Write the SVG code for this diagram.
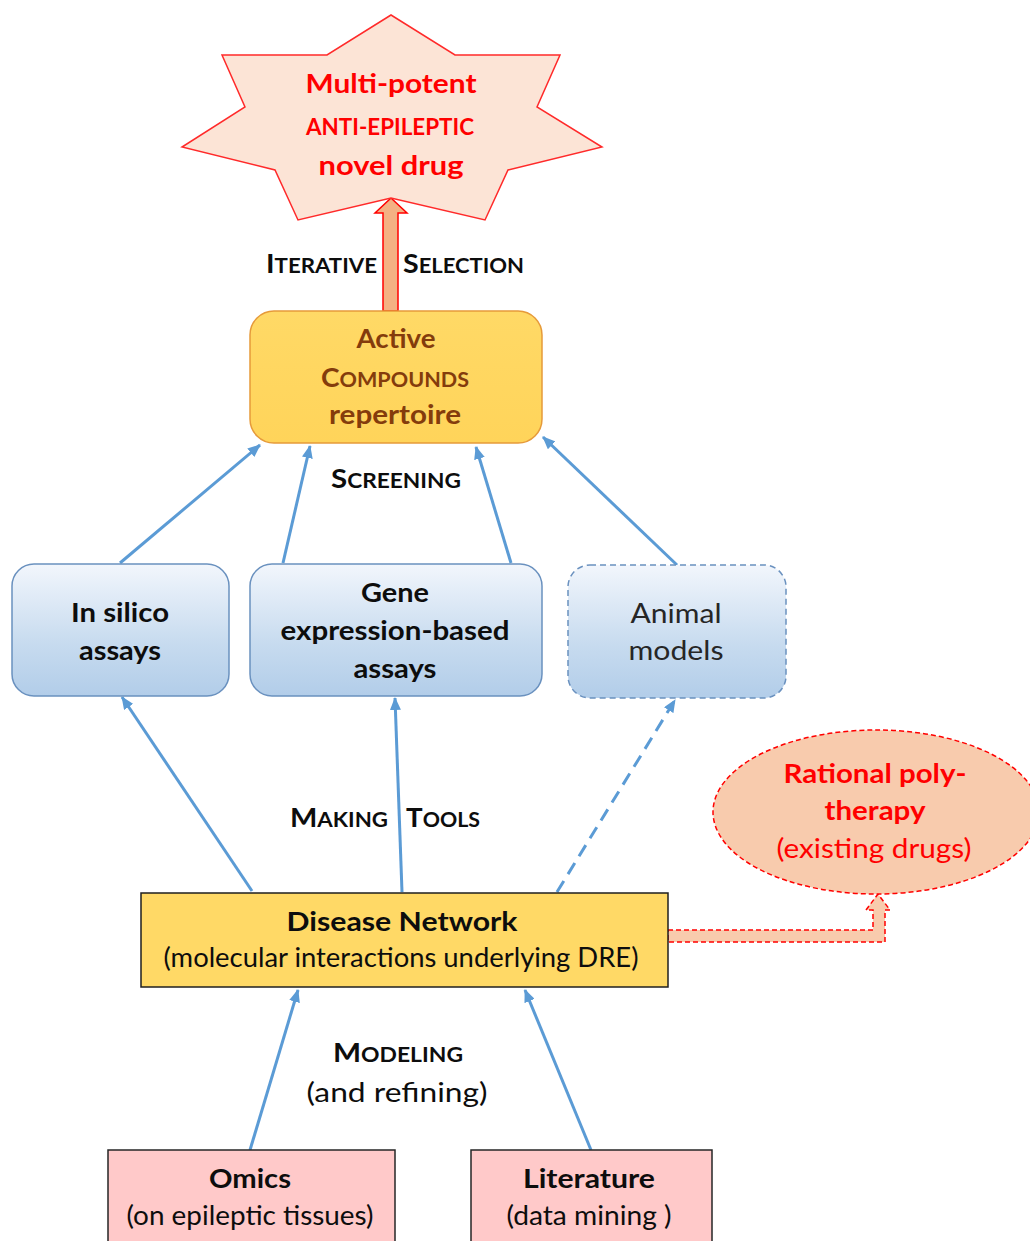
<svg xmlns="http://www.w3.org/2000/svg" width="1030" height="1241" viewBox="0 0 1030 1241">
<defs>
<linearGradient id="blueGrad" x1="0" y1="0" x2="0" y2="1">
<stop offset="0" stop-color="#F2F6FC"/>
<stop offset="0.6" stop-color="#C7DBEF"/>
<stop offset="1" stop-color="#B2CDE9"/>
</linearGradient>
<linearGradient id="goldGrad" x1="0" y1="0" x2="0" y2="1">
<stop offset="0" stop-color="#FFD966"/>
<stop offset="1" stop-color="#FFD45A"/>
</linearGradient>
<marker id="arr" markerWidth="13" markerHeight="11" refX="12" refY="5.5" orient="auto" markerUnits="userSpaceOnUse">
<path d="M0,0 L13,5.5 L0,11 Z" fill="#5B9BD5"/>
</marker>
<style>
text{font-family:Lato,Carlito,"Liberation Sans",sans-serif;text-anchor:middle;font-size:26px}
.b{font-weight:bold}
.dk{fill:#0D0D0D}
.red{fill:#FF0000}
.brn{fill:#843C0C}
.sc{font-size:20px}
.conn{stroke:#5B9BD5;stroke-width:3;fill:none;marker-end:url(#arr)}
.dash{stroke-dasharray:13 8}
.blue{fill:url(#blueGrad);stroke:#6A91BF;stroke-width:1.5}
</style>
</defs>
<rect width="1030" height="1241" fill="#FFFFFF"/>

<g id="connectors">
<line class="conn" x1="120" y1="563" x2="260" y2="445"/>
<line class="conn" x1="283" y1="563" x2="310" y2="446"/>
<line class="conn" x1="511" y1="563" x2="476" y2="447"/>
<line class="conn" x1="677" y1="565" x2="543" y2="437"/>
<line class="conn" x1="252" y1="891" x2="122" y2="697"/>
<line class="conn" x1="402" y1="892" x2="395" y2="698"/>
<line class="conn dash" x1="557" y1="892" x2="675" y2="700"/>
<line class="conn" x1="250" y1="1150" x2="298" y2="990"/>
<line class="conn" x1="591" y1="1150" x2="525" y2="990"/>
<polygon points="383,311 383,213 375,213 391,198 407,213 398,213 398,311" fill="#F4B183" stroke="#FF0000" stroke-width="1.5"/>
<polygon points="668,930 873,930 873,910 866,910 878,894 890,910 885,910 885,942 668,942" fill="#F8CBAD" stroke="#FF0000" stroke-width="1.5" stroke-dasharray="5 3"/>
</g>

<g id="labels">
<text class="b dk" x="321.5" y="273" textLength="111" lengthAdjust="spacingAndGlyphs">I<tspan class="sc">TERATIVE</tspan></text>
<text class="b dk" x="463.5" y="273" textLength="121" lengthAdjust="spacingAndGlyphs">S<tspan class="sc">ELECTION</tspan></text>
<text class="b dk" x="396" y="488" textLength="130" lengthAdjust="spacingAndGlyphs">S<tspan class="sc">CREENING</tspan></text>
<text class="b dk" x="339" y="827" textLength="98" lengthAdjust="spacingAndGlyphs">M<tspan class="sc">AKING</tspan></text>
<text class="b dk" x="443" y="827" textLength="74" lengthAdjust="spacingAndGlyphs">T<tspan class="sc">OOLS</tspan></text>
<text class="b dk" x="398" y="1062" textLength="130" lengthAdjust="spacingAndGlyphs">M<tspan class="sc">ODELING</tspan></text>
<text class="dk" x="397" y="1102" textLength="181" lengthAdjust="spacingAndGlyphs">(and refining)</text>
</g>

<g id="node-drug">
<polygon points="391,15 455,55 560,55 537,107 602,147 508,170 485,220 391,198 298,220 275,170 182,147 245,107 222,55 327,55" fill="#FCE4D6" stroke="#FF2A2A" stroke-width="1.5"/>
<text class="b red" x="391" y="93" style="font-size:27px" textLength="171" lengthAdjust="spacingAndGlyphs">Multi-potent</text>
<text class="b red" x="390" y="135" style="font-size:22px" textLength="168" lengthAdjust="spacingAndGlyphs">ANTI-EPILEPTIC</text>
<text class="b red" x="391" y="175" style="font-size:27px" textLength="145" lengthAdjust="spacingAndGlyphs">novel drug</text>
</g>

<g id="node-active">
<rect x="250" y="311" width="292" height="132" rx="24" fill="url(#goldGrad)" stroke="#E69A3A" stroke-width="1.5"/>
<text class="b brn" x="396" y="348" textLength="79" lengthAdjust="spacingAndGlyphs">Active</text>
<text class="b brn" x="395" y="387" textLength="148" lengthAdjust="spacingAndGlyphs">C<tspan class="sc">OMPOUNDS</tspan></text>
<text class="b brn" x="395" y="424" textLength="132" lengthAdjust="spacingAndGlyphs">repertoire</text>
</g>

<g id="node-insilico">
<rect class="blue" x="12" y="564" width="217" height="132" rx="22"/>
<text class="b dk" x="120" y="622" textLength="98" lengthAdjust="spacingAndGlyphs">In silico</text>
<text class="b dk" x="120" y="660" textLength="82" lengthAdjust="spacingAndGlyphs">assays</text>
</g>

<g id="node-gene">
<rect class="blue" x="250" y="564" width="292" height="132" rx="22"/>
<text class="b dk" x="395" y="602" textLength="68" lengthAdjust="spacingAndGlyphs">Gene</text>
<text class="b dk" x="395" y="640" textLength="229" lengthAdjust="spacingAndGlyphs">expression-based</text>
<text class="b dk" x="395" y="678" textLength="83" lengthAdjust="spacingAndGlyphs">assays</text>
</g>

<g id="node-animal">
<rect class="blue" x="568" y="565" width="218" height="133" rx="22" stroke-dasharray="6 4"/>
<text x="676" y="623" fill="#262626" textLength="91" lengthAdjust="spacingAndGlyphs">Animal</text>
<text x="676" y="660" fill="#262626" textLength="95" lengthAdjust="spacingAndGlyphs">models</text>
</g>

<g id="node-disease">
<rect x="141" y="893" width="527" height="94" fill="#FFD966" stroke="#1F1F1F" stroke-width="1.5"/>
<text class="b dk" x="402" y="931" textLength="231" lengthAdjust="spacingAndGlyphs">Disease Network</text>
<text class="dk" x="401" y="967" textLength="475" lengthAdjust="spacingAndGlyphs">(molecular interactions underlying DRE)</text>
</g>

<g id="node-polytherapy">
<ellipse cx="876" cy="812" rx="163" ry="82" fill="#F8CBAD" stroke="#FF0000" stroke-width="1.5" stroke-dasharray="5 3"/>
<text class="b red" x="875" y="783" textLength="183" lengthAdjust="spacingAndGlyphs">Rational poly-</text>
<text class="b red" x="875" y="820" textLength="101" lengthAdjust="spacingAndGlyphs">therapy</text>
<text class="red" x="874" y="858" textLength="195" lengthAdjust="spacingAndGlyphs">(existing drugs)</text>
</g>

<g id="node-omics">
<rect x="108" y="1150" width="287" height="100" fill="#FFC9C9" stroke="#262626" stroke-width="1.5"/>
<text class="b dk" x="250" y="1188" textLength="82" lengthAdjust="spacingAndGlyphs">Omics</text>
<text class="dk" x="250" y="1225" textLength="247" lengthAdjust="spacingAndGlyphs">(on epileptic tissues)</text>
</g>

<g id="node-literature">
<rect x="471" y="1150" width="241" height="100" fill="#FFC9C9" stroke="#262626" stroke-width="1.5"/>
<text class="b dk" x="589" y="1188" textLength="132" lengthAdjust="spacingAndGlyphs">Literature</text>
<text class="dk" x="589" y="1225" textLength="165" lengthAdjust="spacingAndGlyphs">(data mining )</text>
</g>
</svg>
